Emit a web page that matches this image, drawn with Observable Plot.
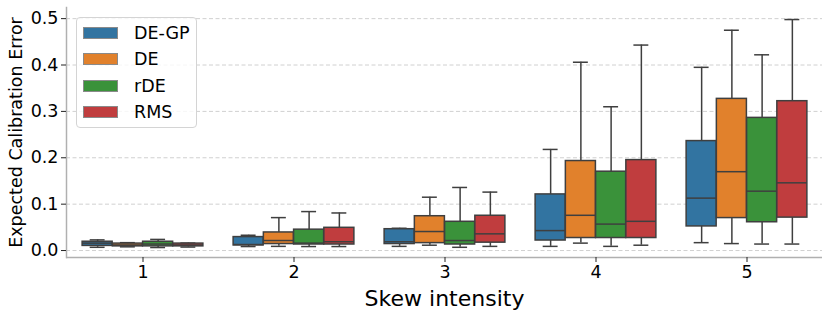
<!DOCTYPE html>
<html>
<head>
<meta charset="utf-8">
<script src="https://cdn.jsdelivr.net/npm/d3@7"></script>
<script src="https://cdn.jsdelivr.net/npm/@observablehq/plot@0.6"></script>
<style>
  html, body { margin: 0; padding: 0; background: #fff; }
  #wrap { position: relative; width: 830px; height: 318px; font-family: "DejaVu Sans", sans-serif; }
  #legend { position: absolute; left: 76px; top: 17px; width: 119px; height: 109px;
    border: 1px solid #d4d4d4; border-radius: 4px; background: rgba(255,255,255,0.8); }
  .row { position: absolute; left: 0; height: 20px; display: flex; align-items: center; }
  .sw { position: absolute; left: 6px; width: 35px; height: 12px; box-sizing: border-box; border: 1px solid #8a8a8a; }
  .lab { position: absolute; left: 57px; font-size: 17.5px; color: #000; white-space: nowrap; line-height: 20px; }
</style>
</head>
<body>
<div id="wrap"><div id="legend"></div></div>
<script>
const skews = ["1", "2", "3", "4", "5"];
const methods = ["DE-GP", "DE", "rDE", "RMS"];
const colors = ["#3274a1", "#e1812c", "#3a923a", "#c03d3e"];
const yTicks = [0, 0.1, 0.2, 0.3, 0.4, 0.5];

// per method (rows), per skew intensity (columns)
const whiskerLow = [
  [0.007, 0.0086, 0.009, 0.009, 0.017],
  [0.008, 0.009, 0.0115, 0.016, 0.015],
  [0.0065, 0.0086, 0.007, 0.009, 0.014],
  [0.0075, 0.0086, 0.009, 0.0115, 0.014]
];
const q1 = [
  [0.010, 0.011, 0.014, 0.0216, 0.052],
  [0.009, 0.014, 0.016, 0.027, 0.070],
  [0.009, 0.013, 0.013, 0.027, 0.061],
  [0.009, 0.013, 0.017, 0.027, 0.071]
];
const median = [
  [0.016, 0.013, 0.019, 0.043, 0.113],
  [0.012, 0.0216, 0.041, 0.076, 0.170],
  [0.014, 0.016, 0.0216, 0.057, 0.128],
  [0.012, 0.019, 0.036, 0.063, 0.146]
];
const q3 = [
  [0.019, 0.029, 0.046, 0.121, 0.236],
  [0.015, 0.039, 0.074, 0.193, 0.327],
  [0.019, 0.045, 0.062, 0.170, 0.286],
  [0.015, 0.049, 0.075, 0.195, 0.322]
];
const whiskerHigh = [
  [0.023, 0.033, 0.048, 0.218, 0.395],
  [0.017, 0.071, 0.115, 0.406, 0.475],
  [0.024, 0.084, 0.136, 0.310, 0.422],
  [0.016, 0.081, 0.126, 0.443, 0.498]
];

const W = 830, H = 318;
const mL = 66, mR = 8, mT = 7, mB = 61;
const band = (W - mL - mR) / skews.length;
const boxW = band * 0.8 / methods.length;
const edge = "#3f3f3f";
const FONT = "DejaVu Sans";

const marks = [
  Plot.ruleY(yTicks, {stroke: "#d0d0d0", strokeWidth: 1, strokeDasharray: "4,2.5"})
];

methods.forEach((m, i) => {
  const rows = skews.map((s, j) => ({
    skew: s, low: whiskerLow[i][j], q1: q1[i][j], med: median[i][j], q3: q3[i][j], high: whiskerHigh[i][j]
  }));
  const left = band * 0.1 + boxW * i;
  const center = left + boxW / 2;
  const capL = center - boxW / 4;
  marks.push(
    Plot.ruleX(rows, {x: "skew", y1: "low", y2: "high", dx: center - band / 2, stroke: edge, strokeWidth: 1.5}),
    Plot.tickY(rows, {x: "skew", y: "low", insetLeft: capL, insetRight: band - capL - boxW / 2, stroke: edge, strokeWidth: 1.5}),
    Plot.tickY(rows, {x: "skew", y: "high", insetLeft: capL, insetRight: band - capL - boxW / 2, stroke: edge, strokeWidth: 1.5}),
    Plot.barY(rows, {x: "skew", y1: "q1", y2: "q3", insetLeft: left, insetRight: band - left - boxW, fill: colors[i], stroke: edge, strokeWidth: 1.5}),
    Plot.tickY(rows, {x: "skew", y: "med", insetLeft: left, insetRight: band - left - boxW, stroke: edge, strokeWidth: 1.5})
  );
});

const fmt = d3.format(".1f");
marks.push(
  Plot.ruleY([-0.015], {stroke: "#b0b0b0", strokeWidth: 1.5}),
  Plot.frame({anchor: "left", stroke: "#b0b0b0", strokeWidth: 1.5}),
  Plot.axisY({ticks: yTicks, tickFormat: () => "", tickSize: 5, label: null, stroke: "#222"}),
  Plot.axisX({tickSize: 5, tickFormat: () => "", label: null, stroke: "#222"}),
  Plot.text(yTicks, {y: d => d, text: d => fmt(d), frameAnchor: "left", dx: -8, textAnchor: "end", lineAnchor: "middle", fontSize: 17.5, fontFamily: FONT, fill: "#000"}),
  Plot.text(skews, {x: d => d, text: d => d, frameAnchor: "bottom", dy: 15, textAnchor: "middle", lineAnchor: "middle", fontSize: 17.5, fontFamily: FONT, fill: "#000"}),
  Plot.text(["Expected Calibration Error"], {frameAnchor: "left", rotate: -90, dx: -50, textAnchor: "middle", lineAnchor: "middle", fontSize: 17.5, fontFamily: FONT, fill: "#000"}),
  Plot.text(["Skew intensity"], {frameAnchor: "bottom", dy: 41, textAnchor: "middle", lineAnchor: "middle", fontSize: 22, fontFamily: FONT, fill: "#000"})
);

const chart = Plot.plot({
  width: W, height: H,
  marginLeft: mL, marginRight: mR, marginTop: mT, marginBottom: mB,
  style: {fontFamily: "DejaVu Sans, sans-serif", color: "#000", background: "#fff"},
  x: {type: "band", domain: skews, padding: 0, axis: null},
  y: {domain: [-0.015, 0.524], axis: null},
  marks
});
const wrap = document.getElementById("wrap");
wrap.insertBefore(chart, wrap.firstChild);

const legend = document.getElementById("legend");
methods.forEach((m, i) => {
  const row = document.createElement("div");
  row.className = "row";
  row.style.top = (5 + i * 26.3) + "px";
  row.style.width = "119px";
  const sw = document.createElement("div");
  sw.className = "sw";
  sw.style.background = colors[i];
  const lab = document.createElement("div");
  lab.className = "lab";
  lab.textContent = m;
  row.appendChild(sw);
  row.appendChild(lab);
  legend.appendChild(row);
});
</script>
</body>
</html>
